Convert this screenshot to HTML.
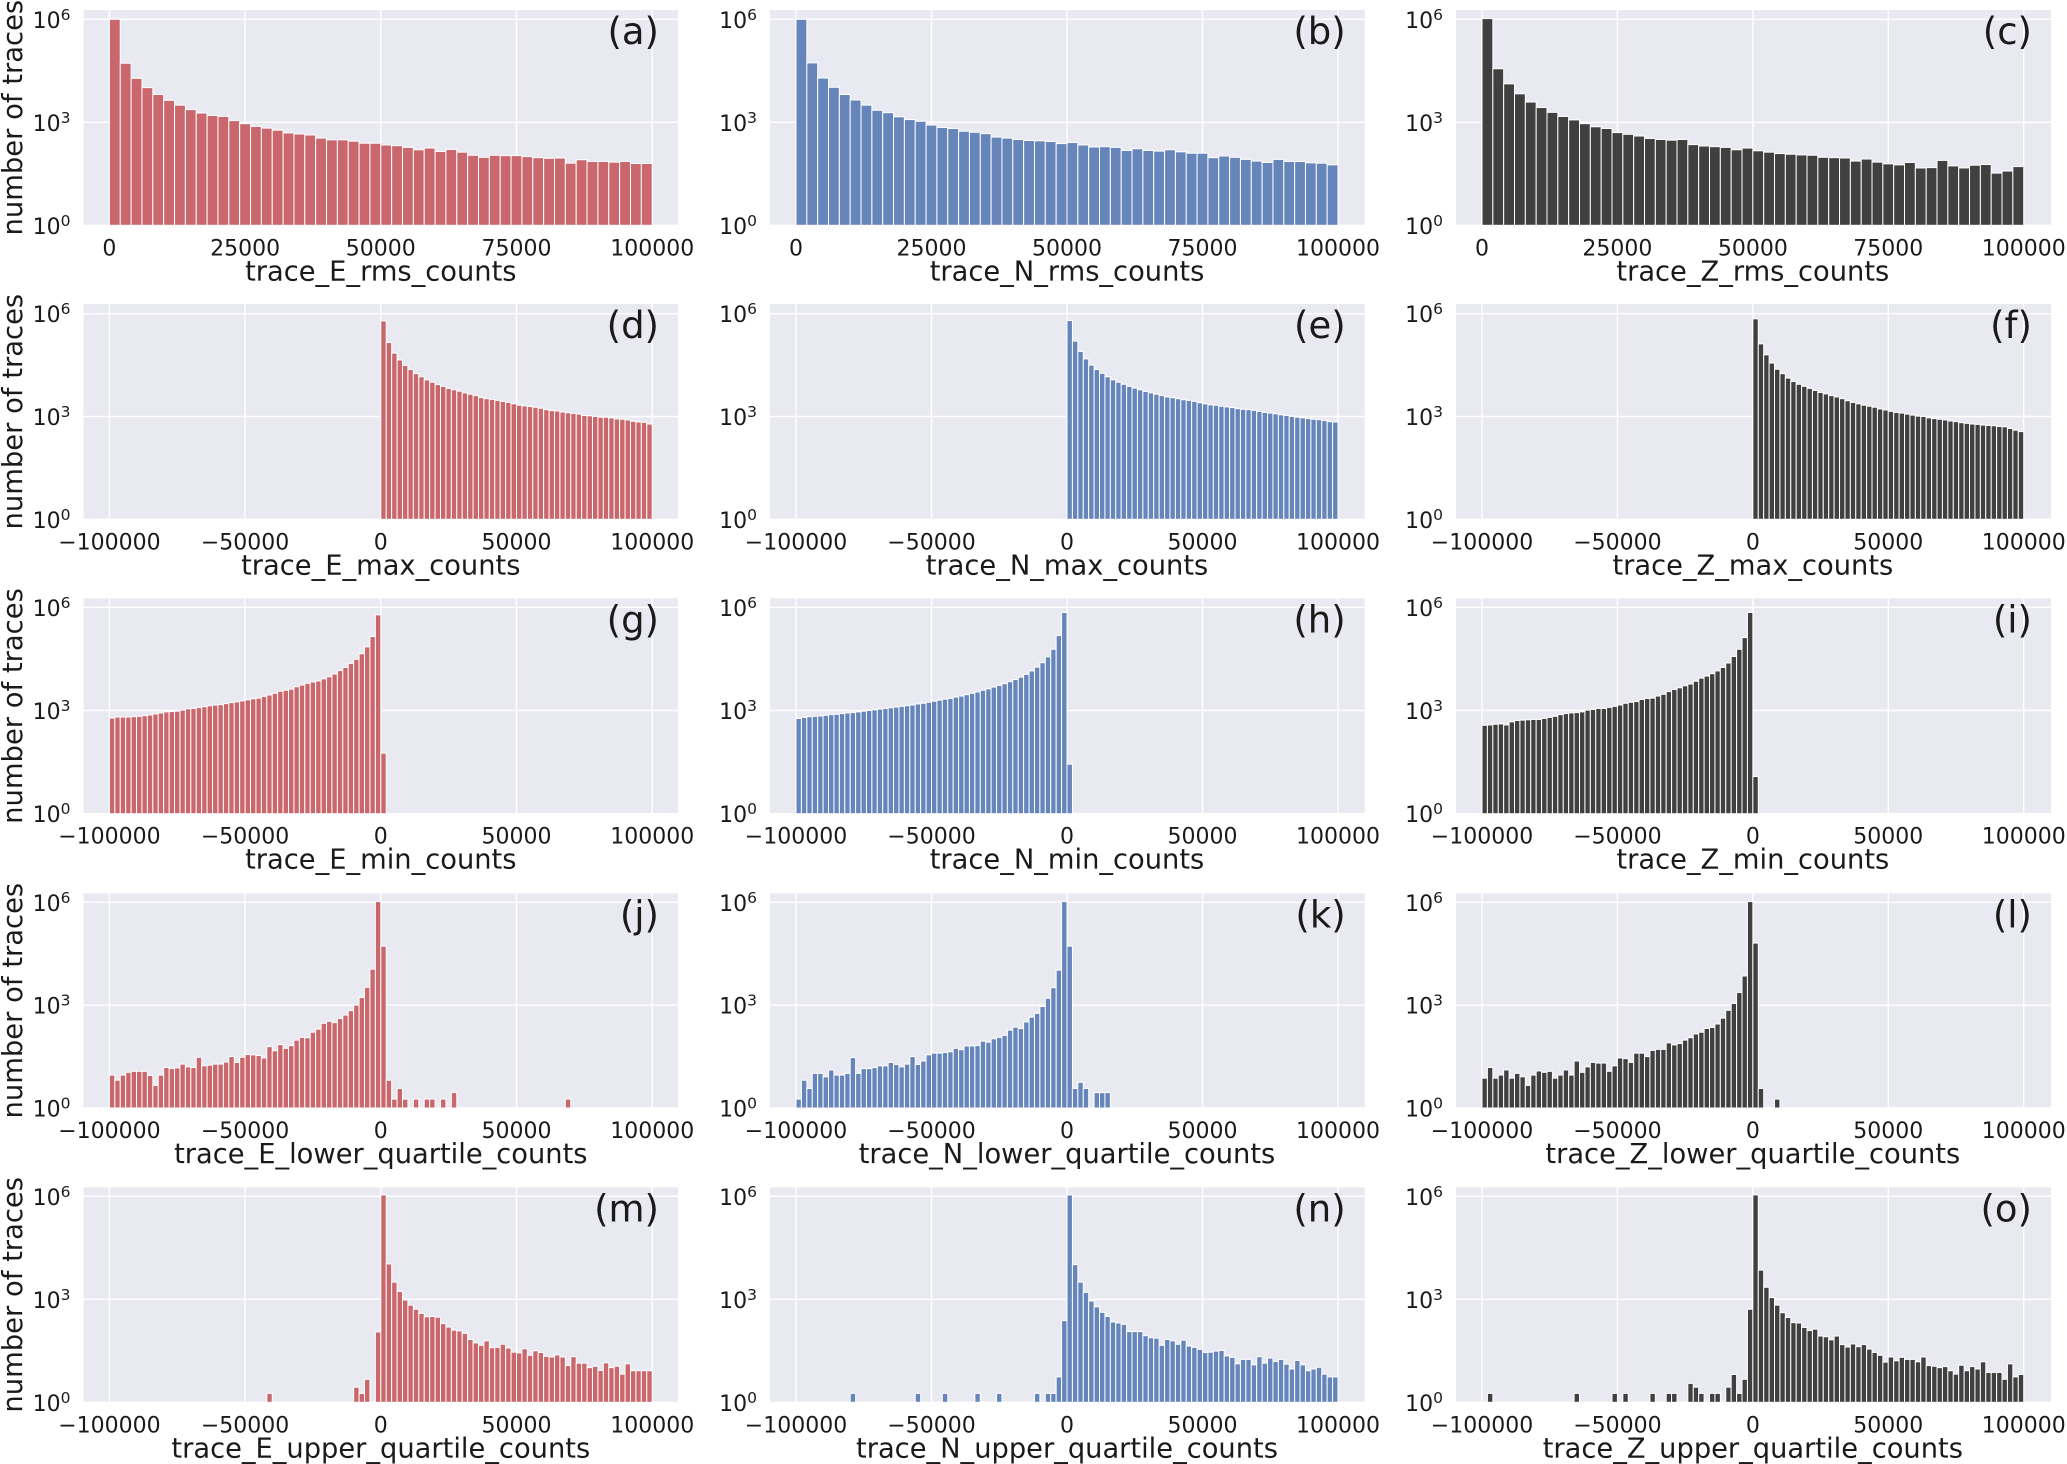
<!DOCTYPE html>
<html lang="en">
<head>
<meta charset="utf-8">
<title>Trace count histograms</title>
<style>
  html, body { margin: 0; padding: 0; background: #ffffff; }
  svg { display: block; font-family: "DejaVu Sans", "Liberation Sans", sans-serif; fill: #1a1a1a; }
</style>
</head>
<body>
<svg id="figure" xmlns="http://www.w3.org/2000/svg" width="2067" height="1464" viewBox="0 0 2067 1464"></svg>
<script>
// Histogram bin heights (log10 of the number of traces; 0 = empty bin).
const binWidth = 2000;
const xTicksPositive = [0, 25000, 50000, 75000, 100000];
const xTicksFull = [-100000, -50000, 0, 50000, 100000];
const yTickExponents = [0, 3, 6];
const yAxisTitle = "number of traces";

const logCountsA = [6.00,4.72,4.28,4.01,3.81,3.64,3.50,3.37,3.27,3.20,3.17,3.05,2.96,2.88,2.83,2.77,2.69,2.66,2.63,2.54,2.49,2.49,2.45,2.39,2.39,2.34,2.32,2.27,2.20,2.25,2.15,2.21,2.13,2.04,1.98,2.04,2.03,2.03,2.00,1.97,1.95,1.96,1.81,1.91,1.86,1.86,1.84,1.86,1.80,1.80];
const logCountsB = [6.00,4.73,4.29,4.02,3.81,3.65,3.50,3.35,3.28,3.16,3.08,3.03,2.92,2.85,2.82,2.74,2.71,2.67,2.57,2.54,2.50,2.47,2.46,2.44,2.38,2.41,2.34,2.28,2.29,2.27,2.18,2.23,2.18,2.16,2.20,2.14,2.10,2.10,1.97,2.02,1.98,1.92,1.87,1.83,1.92,1.86,1.86,1.82,1.81,1.76];
const logCountsC = [6.02,4.56,4.12,3.83,3.59,3.43,3.29,3.17,3.07,2.96,2.87,2.82,2.70,2.65,2.60,2.53,2.50,2.48,2.50,2.35,2.31,2.29,2.27,2.20,2.25,2.17,2.13,2.09,2.07,2.05,2.04,1.98,1.97,1.96,1.87,1.93,1.84,1.79,1.76,1.83,1.67,1.68,1.89,1.73,1.67,1.75,1.77,1.52,1.58,1.71];
const logCountsD = [5.79,5.16,4.85,4.65,4.49,4.37,4.25,4.16,4.07,4.00,3.93,3.88,3.82,3.78,3.74,3.69,3.65,3.61,3.55,3.52,3.50,3.47,3.44,3.41,3.37,3.33,3.31,3.29,3.27,3.24,3.20,3.17,3.16,3.13,3.11,3.09,3.07,3.03,3.02,3.00,2.98,2.98,2.96,2.93,2.92,2.90,2.86,2.84,2.83,2.78];
const logCountsE = [5.80,5.20,4.90,4.68,4.50,4.37,4.26,4.16,4.07,4.00,3.94,3.88,3.83,3.78,3.73,3.69,3.65,3.61,3.57,3.55,3.52,3.49,3.47,3.44,3.40,3.37,3.34,3.33,3.30,3.28,3.26,3.23,3.21,3.20,3.18,3.15,3.12,3.10,3.08,3.05,3.03,3.00,2.98,2.96,2.94,2.92,2.91,2.88,2.85,2.84];
const logCountsF = [5.85,5.12,4.80,4.56,4.38,4.25,4.12,4.02,3.94,3.88,3.82,3.76,3.70,3.66,3.61,3.57,3.52,3.46,3.41,3.37,3.33,3.30,3.27,3.22,3.19,3.15,3.12,3.10,3.07,3.04,3.01,3.00,2.96,2.94,2.92,2.90,2.87,2.85,2.82,2.80,2.78,2.77,2.75,2.74,2.73,2.71,2.70,2.65,2.60,2.56];
const logCountsG = [2.78,2.81,2.81,2.81,2.82,2.83,2.85,2.87,2.90,2.93,2.96,2.97,2.98,3.01,3.05,3.06,3.09,3.11,3.14,3.16,3.17,3.20,3.23,3.25,3.28,3.31,3.34,3.36,3.41,3.45,3.50,3.56,3.59,3.62,3.69,3.74,3.79,3.83,3.86,3.92,3.98,4.06,4.16,4.25,4.37,4.49,4.65,4.85,5.15,5.78,1.76];
const logCountsH = [2.77,2.80,2.82,2.83,2.84,2.86,2.88,2.89,2.91,2.93,2.94,2.96,2.98,3.00,3.02,3.04,3.06,3.08,3.10,3.12,3.14,3.16,3.19,3.21,3.24,3.27,3.30,3.33,3.35,3.39,3.42,3.46,3.50,3.54,3.59,3.63,3.68,3.73,3.78,3.84,3.90,3.97,4.05,4.15,4.26,4.39,4.56,4.78,5.18,5.85,1.44];
const logCountsI = [2.57,2.58,2.60,2.61,2.58,2.67,2.71,2.72,2.73,2.74,2.74,2.77,2.80,2.83,2.88,2.91,2.93,2.94,2.96,3.01,3.03,3.06,3.06,3.09,3.12,3.16,3.21,3.24,3.26,3.32,3.35,3.36,3.42,3.47,3.55,3.61,3.66,3.72,3.77,3.85,3.94,4.00,4.07,4.15,4.25,4.38,4.57,4.78,5.12,5.85,1.08];
const logCountsJ = [
  0.96,0.81,0.96,1.04,1.07,1.07,1.07,0.95,0.66,0.96,
  1.18,1.15,1.17,1.28,1.20,1.18,1.48,1.23,1.25,1.28,
  1.28,1.34,1.50,1.33,1.48,1.56,1.55,1.53,1.46,1.79,
  1.67,1.85,1.74,1.82,1.98,2.06,2.05,2.21,2.30,2.47,
  2.53,2.49,2.61,2.71,2.84,3.00,3.22,3.52,4.05,6.02,
  4.72,0.81,0.26,0.57,0.26,0,0.26,0,0.26,0.26,
  0,0.26,0,0.45,0,0,0,0,0,0,
  0,0,0,0,0,0,0,0,0,0,
  0,0,0,0,0.26,0,0,0,0,0];
const logCountsK = [
  0.26,0.81,0.57,1.01,1.01,0.91,1.11,0.96,0.96,1.01,
  1.47,1.01,1.15,1.15,1.18,1.23,1.23,1.33,1.27,1.20,
  1.28,1.50,1.27,1.37,1.55,1.60,1.60,1.62,1.64,1.74,
  1.70,1.81,1.81,1.82,1.95,1.92,2.02,2.06,2.12,2.27,
  2.36,2.32,2.51,2.65,2.76,2.96,3.20,3.51,4.02,6.02,
  4.72,0.57,0.75,0.57,0,0.45,0.45,0.45];
const logCountsL = [
  0.87,1.18,0.87,0.96,1.11,0.87,1.01,0.91,0.66,0.96,
  1.08,1.04,1.07,0.87,0.96,1.11,0.96,1.37,1.04,1.20,
  1.33,1.31,1.31,1.07,1.23,1.46,1.44,1.33,1.60,1.60,
  1.50,1.68,1.71,1.71,1.90,1.84,1.88,1.98,2.05,2.16,
  2.21,2.32,2.35,2.45,2.62,2.85,3.05,3.37,3.85,6.02,
  4.81,0.57,0,0,0.26];
const logCountsM = [
  0,0,0,0,0,0,0,0,0,0,
  0,0,0,0,0,0,0,0,0,0,
  0,0,0,0,0,0,0,0,0,0.26,
  0,0,0,0,0,0,0,0,0,0,
  0,0,0,0,0,0.44,0.26,0.67,0,2.05,
  6.04,4.03,3.50,3.23,2.98,2.83,2.71,2.59,2.49,2.50,
  2.48,2.29,2.19,2.10,2.08,2.01,1.83,1.73,1.66,1.79,
  1.59,1.60,1.69,1.58,1.46,1.44,1.56,1.37,1.50,1.45,
  1.34,1.32,1.38,1.32,1.07,1.33,1.14,1.14,1.01,1.05,
  0.93,1.15,1.01,1.05,0.82,1.12,0.92,0.92,0.92,0.92];
const logCountsN = [
  0,0,0,0,0,0,0,0,0,0,
  0.26,0,0,0,0,0,0,0,0,0,
  0,0,0.26,0,0,0,0,0.26,0,0,
  0,0,0,0.26,0,0,0,0.26,0,0,
  0,0,0,0,0.26,0,0.26,0.26,0.74,2.38,
  6.04,4.01,3.50,3.20,2.95,2.78,2.62,2.50,2.34,2.31,
  2.27,2.06,2.06,2.06,1.94,1.88,1.87,1.66,1.83,1.79,
  1.69,1.81,1.64,1.60,1.54,1.45,1.46,1.49,1.51,1.35,
  1.31,1.12,1.25,1.25,1.09,1.33,1.14,1.29,1.19,1.25,
  1.11,0.97,1.22,1.09,0.92,0.97,1.02,0.82,0.74,0.74];
const logCountsO = [
  0,0.26,0,0,0,0,0,0,0,0,
  0,0,0,0,0,0,0,0.26,0,0,
  0,0,0,0,0.26,0,0.26,0,0,0,
  0,0.26,0,0,0.26,0.26,0,0,0.55,0.44,
  0.26,0,0.26,0.26,0,0.44,0.81,0.26,0.67,2.71,
  6.04,3.85,3.35,3.05,2.83,2.61,2.47,2.32,2.31,2.18,
  2.09,2.13,1.93,1.91,1.82,1.93,1.68,1.61,1.70,1.62,
  1.68,1.55,1.45,1.37,1.17,1.32,1.21,1.31,1.25,1.25,
  1.18,1.32,1.07,1.05,1.01,1.04,0.92,0.82,1.08,0.92,
  1.04,0.97,1.18,0.87,0.87,0.87,0.67,1.12,0.74,0.81];

const panelLetters = ["(a)","(b)","(c)","(d)","(e)","(f)","(g)","(h)","(i)","(j)","(k)","(l)","(m)","(n)","(o)"];
const panelTitles = [
  "trace_E_rms_counts","trace_N_rms_counts","trace_Z_rms_counts",
  "trace_E_max_counts","trace_N_max_counts","trace_Z_max_counts",
  "trace_E_min_counts","trace_N_min_counts","trace_Z_min_counts",
  "trace_E_lower_quartile_counts","trace_N_lower_quartile_counts","trace_Z_lower_quartile_counts",
  "trace_E_upper_quartile_counts","trace_N_upper_quartile_counts","trace_Z_upper_quartile_counts"];
const panelSeries = [logCountsA,logCountsB,logCountsC,logCountsD,logCountsE,logCountsF,logCountsG,logCountsH,logCountsI,logCountsJ,logCountsK,logCountsL,logCountsM,logCountsN,logCountsO];
const panelBinStarts = [0,0,0,0,0,0,-100000,-100000,-100000,-100000,-100000,-100000,-100000,-100000,-100000];

// Layout (pixels)
const columnBoxes = [
  {left: 83.5, right: 678, x0: 109.4, x1: 652.2, color: "#c9676c"},
  {left: 770, right: 1364.7, x0: 796, x1: 1338, color: "#6585bb"},
  {left: 1456, right: 2051, x0: 1482, x1: 2023.7, color: "#404040"}
];
const rowBoxes = [
  {top: 10, y6: 19.3, y0: 225.3},
  {top: 304, y6: 313.7, y0: 519.3},
  {top: 598.3, y6: 607.3, y0: 813.7},
  {top: 893.3, y6: 902.3, y0: 1108},
  {top: 1187.3, y6: 1196.3, y0: 1402.3}
];

const SVG_NS = "http://www.w3.org/2000/svg";
const figure = document.getElementById("figure");

function make(tag, attrs, parent) {
  const node = document.createElementNS(SVG_NS, tag);
  for (const key in attrs) node.setAttribute(key, attrs[key]);
  parent.appendChild(node);
  return node;
}
function formatTick(v) {
  return v < 0 ? "\u2212" + Math.abs(v) : String(v);
}

panelSeries.forEach(function (series, index) {
  const col = columnBoxes[index % 3];
  const row = rowBoxes[Math.floor(index / 3)];
  const isFirstRow = index < 3;
  const xTicks = isFirstRow ? xTicksPositive : xTicksFull;
  const xMin = xTicks[0];
  const xMax = xTicks[xTicks.length - 1];
  const xScale = function (v) { return col.x0 + (v - xMin) / (xMax - xMin) * (col.x1 - col.x0); };
  const yScale = function (exponent) { return row.y0 + exponent / 6 * (row.y6 - row.y0); };

  const group = make("g", {}, figure);
  
  

  const background = make("rect", {x: col.left, y: row.top, width: col.right - col.left, height: row.y0 - row.top, fill: "#e9e9f1"}, group);
  
  

  xTicks.forEach(function (tick) {
    const px = xScale(tick);
    const grid = make("line", {x1: px, x2: px, y1: row.top, y2: row.y0, stroke: "#ffffff", "stroke-width": 1.4}, group);
    
    

    const label = make("text", {x: px, y: row.y0 + 30, "text-anchor": "middle", "font-size": 22}, group);
    label.textContent = formatTick(tick);
    
    
  });

  yTickExponents.forEach(function (exponent) {
    const py = yScale(exponent);
    const grid = make("line", {x1: col.left, x2: col.right, y1: py, y2: py, stroke: "#ffffff", "stroke-width": 1.4}, group);
    
    

    const label = make("text", {x: col.left - 13, y: py + 8.5, "text-anchor": "end", "font-size": 22}, group);
    
    
    const base = make("tspan", {}, label);
    base.textContent = "10";
    const power = make("tspan", {dy: -8, "font-size": 15.5}, label);
    power.textContent = String(exponent);
  });

  series.forEach(function (value, bin) {
    if (value <= 0) return;
    const xLeft = xScale(panelBinStarts[index] + bin * binWidth);
    const xRight = xScale(panelBinStarts[index] + (bin + 1) * binWidth);
    const yTop = yScale(value);
    const bar = make("rect", {x: xLeft, y: yTop, width: xRight - xLeft, height: row.y0 - yTop, fill: col.color, stroke: "#ffffff", "stroke-width": 1}, group);
    
    
  });

  const title = make("text", {x: (col.x0 + col.x1) / 2, y: row.y0 + 55, "text-anchor": "middle", "font-size": 27.3}, group);
  title.textContent = panelTitles[index];
  
  

  const letter = make("text", {x: col.right - 19, y: row.top + 34, "text-anchor": "end", "font-size": 37}, group);
  letter.textContent = panelLetters[index];
  
  

  if (index % 3 === 0) {
    const cy = (row.top + row.y0) / 2;
    const yTitle = make("text", {x: 0, y: 0, "text-anchor": "middle", "font-size": 27.4, transform: "translate(22 " + cy + ") rotate(-90)"}, group);
    yTitle.textContent = yAxisTitle;
    
    
  }
});
</script>
</body>
</html>
